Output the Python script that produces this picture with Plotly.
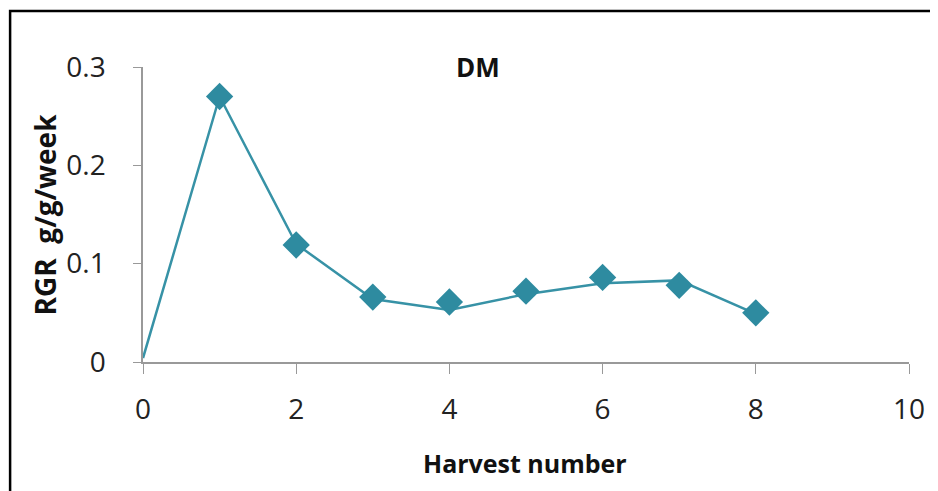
import plotly.graph_objects as go

# harvest numbers and RGR values
harvest = [0, 1, 2, 3, 4, 5, 6, 7, 8]
rgr_line = [0.004, 0.270, 0.120, 0.064, 0.053, 0.069, 0.080, 0.083, 0.049]
marker_harvest = [1, 2, 3, 4, 5, 6, 7, 8]
rgr_points = [0.270, 0.119, 0.066, 0.061, 0.072, 0.086, 0.078, 0.050]

teal = "#2e8ba0"
font = "Open Sans"

fig = go.Figure()
fig.add_scatter(x=harvest, y=rgr_line, mode="lines",
                line=dict(color="#3792a6", width=2.5), showlegend=False)
fig.add_scatter(x=marker_harvest, y=rgr_points, mode="markers",
                marker=dict(symbol="diamond", size=21, color=teal),
                showlegend=False)

# page body adds an 8px offset, so the figure is sized to fill the rest
fig.update_layout(
    width=930, height=483,
    margin=dict(l=135, r=29, t=59, b=129),
    paper_bgcolor="white", plot_bgcolor="white",
    font=dict(family=font, color="#111111"),
    xaxis=dict(range=[0, 10], tickvals=[0, 2, 4, 6, 8, 10],
               showgrid=False, zeroline=False, automargin=False,
               showline=True, linecolor="#999999", linewidth=1.5,
               ticks="outside", ticklen=10, tickcolor="#999999",
               tickfont=dict(size=28, family=font, color="#222222"),
               ticklabelstandoff=12),
    yaxis=dict(range=[0, 0.3], tickvals=[0, 0.1, 0.2, 0.3],
               ticktext=["0", "0.1", "0.2", "0.3"],
               showgrid=False, zeroline=False, automargin=False,
               showline=True, linecolor="#999999", linewidth=1.5,
               ticks="outside", ticklen=8, tickcolor="#999999",
               tickfont=dict(size=28, family=font, color="#222222"),
               ticklabelstandoff=22),
)

fig.add_annotation(text="<b>DM</b>", xref="paper", yref="paper",
                   x=0.437, y=1.0, xanchor="center", yanchor="middle",
                   showarrow=False,
                   font=dict(size=26, family=font, color="#111111"))
fig.add_annotation(text="<b>Harvest number</b>", xref="paper", yref="paper",
                   x=0.499, y=-0.342, xanchor="center", yanchor="middle",
                   showarrow=False,
                   font=dict(size=25, family=font, color="#111111"))
fig.add_annotation(text="<b>RGR  g/g/week</b>", xref="paper", yref="paper",
                   x=-0.128, y=0.50, xanchor="center", yanchor="middle",
                   textangle=-90, showarrow=False,
                   font=dict(size=28, family=font, color="#111111"))

# outer frame around the chart
fig.add_shape(type="rect", xref="paper", yref="paper",
              x0=-0.1735, x1=1.06, y0=-0.5, y1=1.19,
              line=dict(color="black", width=2.5))

fig.write_html("out.html")
